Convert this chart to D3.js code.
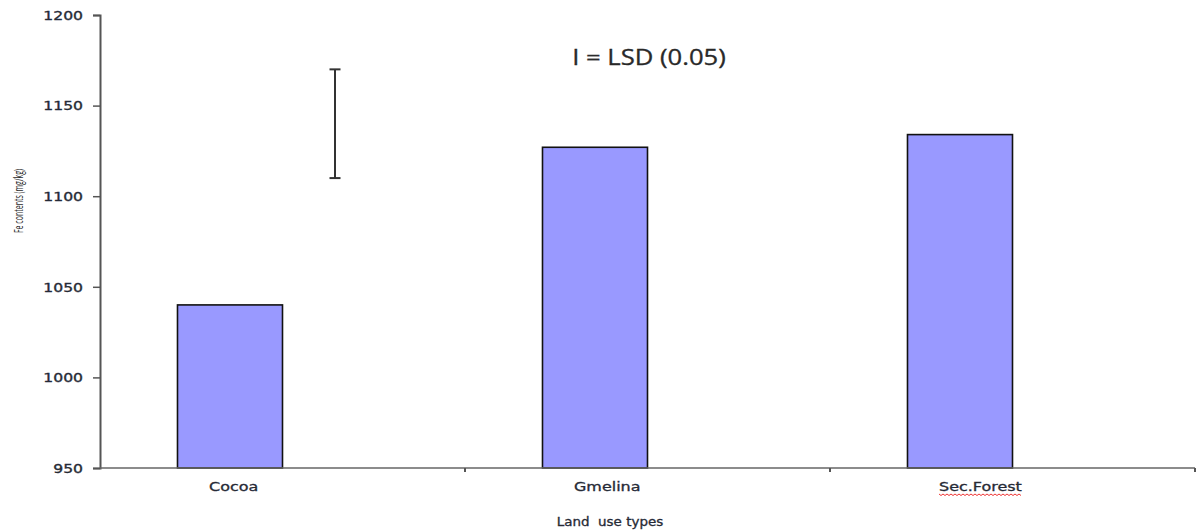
<!DOCTYPE html>
<html>
<head>
<meta charset="utf-8">
<script src="https://cdn.jsdelivr.net/npm/d3@7"></script>
<style>
  html, body { margin: 0; padding: 0; background: #fff; }
  svg { display: block; }
  text { fill: #2b2b2b; }
</style>
</head>
<body>
<svg id="chart" width="1196" height="531"></svg>
<script>
// Fe contents by land use type
const categories = ["Cocoa", "Gmelina", "Sec.Forest"];
const feValues = [1040, 1127, 1134];
const yTicks = [950, 1000, 1050, 1100, 1150, 1200];
// LSD (0.05) bar, drawn beside the Cocoa bar
const lsdCenter = 1140;
const lsdValue = 60;
const series = ["Fe", "LSD"];

const svg = d3.select("#chart");
const margin = { top: 15, right: 1, bottom: 63, left: 100 };
const width = 1196 - margin.left - margin.right;
const height = 531 - margin.top - margin.bottom;
const g = svg.append("g").attr("transform", `translate(${margin.left},${margin.top})`);

const x = d3.scaleBand().domain(categories).range([0, width]).padding(0);
const xInner = d3.scaleBand().domain(series).range([0, x.bandwidth()]).paddingInner(0).paddingOuter(0.738);
const y = d3.scaleLinear().domain([950, 1200]).range([height, 0]);

// stretch text horizontally by factor k
function stretch(sel, k) {
  sel.each(function () {
    const w = this.getComputedTextLength();
    d3.select(this).attr("textLength", w * k).attr("lengthAdjust", "spacingAndGlyphs");
  });
}

// bars
g.selectAll("rect.bar")
  .data(categories.map((c, i) => ({ c, v: feValues[i] })))
  .join("rect")
  .attr("class", "bar")
  .attr("x", d => x(d.c) + xInner("Fe"))
  .attr("width", xInner.bandwidth())
  .attr("y", d => y(d.v))
  .attr("height", d => y(950) - y(d.v))
  .attr("fill", "#9999ff")
  .attr("stroke", "#111")
  .attr("stroke-width", 1.6);

// y axis
const yAxis = g.append("g")
  .call(d3.axisLeft(y).tickValues(yTicks).tickSize(7).tickPadding(10).tickFormat(d3.format("d")));
yAxis.select(".domain").attr("stroke", "#555").attr("stroke-width", 2);
yAxis.selectAll(".tick line").attr("stroke", "#555").attr("stroke-width", 1.5);
yAxis.selectAll(".tick text")
  .attr("font-family", "DejaVu Sans")
  .attr("font-size", 12)
  .attr("fill", "#1f2a44")
  .attr("stroke", "#1f2a44")
  .attr("stroke-width", 0.35)
  .attr("dy", "0.35em")
  .call(stretch, 1.3);

// x axis line with ticks at category boundaries
const xAxis = g.append("g").attr("transform", `translate(0,${height})`);
xAxis.append("line")
  .attr("x1", 0).attr("x2", width).attr("y1", 0).attr("y2", 0)
  .attr("stroke", "#666").attr("stroke-width", 1.5);
xAxis.selectAll("line.xtick")
  .data(categories.map(c => x(c) + x.bandwidth()))
  .join("line")
  .attr("class", "xtick")
  .attr("x1", d => d).attr("x2", d => d)
  .attr("y1", 0).attr("y2", 4)
  .attr("stroke", "#555").attr("stroke-width", 2);

// category labels
const labels = xAxis.selectAll("text.cat")
  .data(categories)
  .join("text")
  .attr("class", "cat")
  .attr("x", d => x(d) + 109)
  .attr("y", 23)
  .attr("text-anchor", "start")
  .attr("font-family", "DejaVu Sans")
  .attr("font-size", 12)
  .attr("fill", "#1f2a44")
  .attr("stroke", "#1f2a44")
  .attr("stroke-width", 0.3)
  .text(d => d)
  .call(stretch, 1.33);

// spell-check squiggle under Sec.Forest
labels.filter(d => d === "Sec.Forest").each(function () {
  const b = this.getBBox();
  const pts = [];
  for (let px = b.x; px <= b.x + b.width; px += 2) {
    pts.push([px, b.y + b.height + ((Math.round((px - b.x) / 2) % 2) ? 1.5 : 0)]);
  }
  xAxis.append("path")
    .attr("d", d3.line()(pts))
    .attr("fill", "none")
    .attr("stroke", "#e33")
    .attr("stroke-width", 1);
});

// LSD bar
const lsdX = x("Cocoa") + xInner("LSD") + xInner.bandwidth() / 2;
const lsdTop = y(lsdCenter + lsdValue / 2);
const lsdBot = y(lsdCenter - lsdValue / 2);
const lsd = g.append("g").attr("stroke", "#333").attr("stroke-width", 2);
lsd.append("line").attr("x1", lsdX).attr("x2", lsdX).attr("y1", lsdTop).attr("y2", lsdBot);
lsd.append("line").attr("x1", lsdX - 5.5).attr("x2", lsdX + 5.5).attr("y1", lsdTop).attr("y2", lsdTop);
lsd.append("line").attr("x1", lsdX - 5.5).attr("x2", lsdX + 5.5).attr("y1", lsdBot).attr("y2", lsdBot);

// legend text for the LSD bar
svg.append("text")
  .attr("x", 649)
  .attr("y", 65)
  .attr("text-anchor", "middle")
  .attr("font-family", "Open Sans")
  .attr("font-size", 21)
  .attr("fill", "#222")
  .attr("stroke", "#222")
  .attr("stroke-width", 0.3)
  .text("I = LSD (0.05)")
  .call(stretch, 1.22);

// axis titles
svg.append("text")
  .attr("transform", "translate(23,201) rotate(-90)")
  .attr("text-anchor", "middle")
  .attr("font-family", "Open Sans")
  .attr("font-size", 13)
  .attr("fill", "#222")
  .text("Fe contents (mg/kg)")
  .attr("textLength", 64)
  .attr("lengthAdjust", "spacingAndGlyphs");

svg.append("text")
  .attr("x", 610)
  .attr("y", 526)
  .attr("text-anchor", "middle")
  .attr("font-family", "DejaVu Sans")
  .attr("font-size", 12)
  .attr("fill", "#1f2a44")
  .attr("stroke", "#1f2a44")
  .attr("stroke-width", 0.3)
  .attr("xml:space", "preserve")
  .text("Land  use types")
  .call(stretch, 1.12);
</script>
</body>
</html>
